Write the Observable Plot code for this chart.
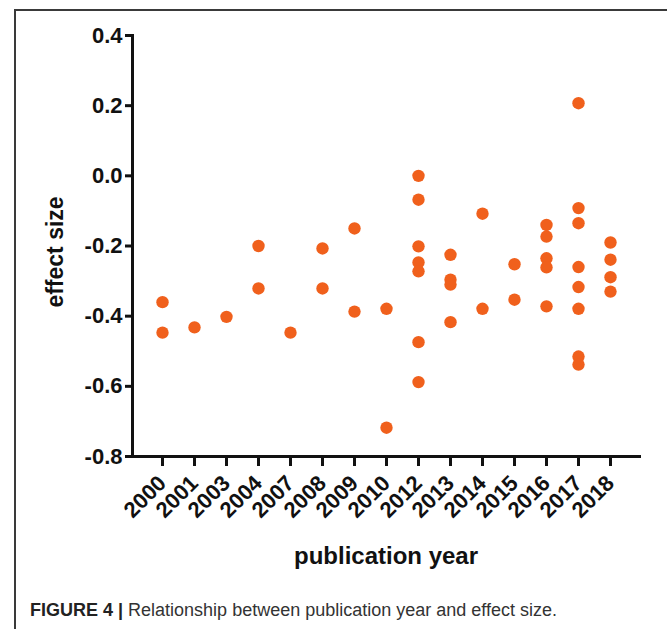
<!DOCTYPE html>
<html>
<head>
<meta charset="utf-8">
<script src="https://cdn.jsdelivr.net/npm/d3@7"></script>
<script src="https://cdn.jsdelivr.net/npm/@observablehq/plot@0.6"></script>
<style>
  html, body { margin: 0; padding: 0; background: #fff; }
  body { width: 667px; height: 629px; position: relative; overflow: hidden; font-family: "Liberation Sans", Arial, Helvetica, sans-serif; }
  #frame { position: absolute; left: 14px; top: 9px; width: 660px; height: 640px; border-left: 2px solid #3a3a3a; border-top: 2px solid #3a3a3a; }
  #chart { position: absolute; left: 0; top: 0; }
  #caption { position: absolute; left: 30px; top: 600px; font-size: 18px; color: #333; white-space: nowrap; }
  #caption b { color: #222; }
</style>
</head>
<body>
<div id="frame"></div>
<div id="chart"></div>
<div id="caption"><b>FIGURE 4 |</b> Relationship between publication year and effect size.</div>
<script>
const years = ["2000","2001","2003","2004","2007","2008","2009","2010","2012","2013","2014","2015","2016","2017","2018"];
const yTicks = [-0.8, -0.6, -0.4, -0.2, 0.0, 0.2, 0.4];
const yTickLabels = ["-0.8", "-0.6", "-0.4", "-0.2", "0.0", "0.2", "0.4"];

const pointYear = [
  "2000","2000",
  "2001",
  "2003",
  "2004","2004",
  "2007",
  "2008","2008",
  "2009","2009",
  "2010","2010",
  "2012","2012","2012","2012","2012","2012","2012",
  "2013","2013","2013","2013",
  "2014","2014",
  "2015","2015",
  "2016","2016","2016","2016","2016",
  "2017","2017","2017","2017","2017","2017","2017","2017",
  "2018","2018","2018","2018"
];
const effectSize = [
  -0.36, -0.447,
  -0.432,
  -0.402,
  -0.200, -0.321,
  -0.447,
  -0.207, -0.321,
  -0.150, -0.387,
  -0.379, -0.718,
  0.0, -0.068, -0.201, -0.247, -0.272, -0.474, -0.588,
  -0.225, -0.296, -0.310, -0.417,
  -0.108, -0.379,
  -0.252, -0.353,
  -0.140, -0.173, -0.235, -0.261, -0.372,
  0.207, -0.092, -0.135, -0.260, -0.317, -0.379, -0.515, -0.538,
  -0.190, -0.239, -0.289, -0.330
];

const data = pointYear.map((y, i) => ({year: y, value: effectSize[i]}));

const chart = Plot.plot({
  width: 667,
  height: 580,
  marginLeft: 132,
  marginRight: 28,
  marginTop: 35,
  marginBottom: 124,
  style: {fontFamily: "'Liberation Sans', Arial, Helvetica, sans-serif", fontWeight: "bold", fontSize: "22px", color: "#111", background: "transparent"},
  x: {type: "point", domain: years, padding: 0.75},
  y: {domain: [-0.8, 0.4], ticks: yTicks},
  marks: [
    Plot.axisY({ticks: yTicks, tickFormat: (d) => yTickLabels[yTicks.indexOf(d)], tickSize: 7, tickPadding: 3, strokeWidth: 3, label: null, fontSize: 22, fontWeight: "bold"}),
    Plot.axisX({tickSize: 10, tickPadding: 13, tickRotate: -45, strokeWidth: 3, label: null, fontSize: 22, fontWeight: "bold"}),
    Plot.frame({anchor: "left", strokeWidth: 3, stroke: "#111"}),
    Plot.frame({anchor: "bottom", strokeWidth: 3, stroke: "#111"}),
    Plot.dot(data, {x: "year", y: "value", r: 6.2, fill: "#f0601c"}),
    Plot.text(["publication year"], {text: d => d, frameAnchor: "bottom", dy: 107, fontSize: 24, fontWeight: "bold"}),
    Plot.text(["effect size"], {text: d => d, frameAnchor: "left", textAnchor: "middle", rotate: -90, dx: -77, dy: 6, fontSize: 23, fontWeight: "bold"})
  ]
});
document.getElementById("chart").appendChild(chart);
</script>
</body>
</html>
